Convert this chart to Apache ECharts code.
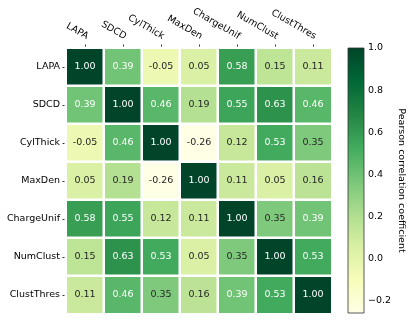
<!DOCTYPE html>
<html>
<head>
<meta charset="utf-8">
<script src="https://cdn.jsdelivr.net/npm/echarts@6/dist/echarts.min.js"></script>
<style>
  html, body { margin: 0; padding: 0; background: #fff; }
  #chart { width: 413px; height: 320px; }
</style>
</head>
<body>
<div id="chart"></div>
<script>
// 变量名
var labels = ['LAPA', 'SDCD', 'CylThick', 'MaxDen', 'ChargeUnif', 'NumClust', 'ClustThres'];
// 相关系数矩阵 (按行)
var rowLAPA = [1.00, 0.39, -0.05, 0.05, 0.58, 0.15, 0.11];
var rowSDCD = [0.39, 1.00, 0.46, 0.19, 0.55, 0.63, 0.46];
var rowCylThick = [-0.05, 0.46, 1.00, -0.26, 0.12, 0.53, 0.35];
var rowMaxDen = [0.05, 0.19, -0.26, 1.00, 0.11, 0.05, 0.16];
var rowChargeUnif = [0.58, 0.55, 0.12, 0.11, 1.00, 0.35, 0.39];
var rowNumClust = [0.15, 0.63, 0.53, 0.05, 0.35, 1.00, 0.53];
var rowClustThres = [0.11, 0.46, 0.35, 0.16, 0.39, 0.53, 1.00];
var rows = [rowLAPA, rowSDCD, rowCylThick, rowMaxDen, rowChargeUnif, rowNumClust, rowClustThres];
// 色条刻度
var cbTicks = [-0.2, 0.0, 0.2, 0.4, 0.6, 0.8, 1.0];
var cbMin = -0.26;
var cbMax = 1.0;

var ylgn = ['#ffffe5', '#f7fcb9', '#d9f0a3', '#addd8e', '#78c679', '#41ab5d', '#238443', '#006837', '#004529'];
var font = 'DejaVu Sans';
var textDark = '#262626';

var heatData = [];
for (var r = 0; r < rows.length; r++) {
    for (var c = 0; c < rows[r].length; c++) {
        var v = rows[r][c];
        heatData.push({
            value: [c, r, v],
            label: { color: v > 0.37 ? '#ffffff' : textDark }
        });
    }
}

var stops = [];
for (var i = 0; i < ylgn.length; i++) {
    stops.push({ offset: 1 - i / (ylgn.length - 1), color: ylgn[i] });
}

var myChart = echarts.init(document.getElementById('chart'), null, { renderer: 'canvas' });
var option = {
    animation: false,
    backgroundColor: '#fff',
    grid: [
        { left: 66, top: 48, width: 266, height: 266 },
        { left: 348, top: 48, width: 16, height: 265 }
    ],
    xAxis: [{
        type: 'category',
        data: labels,
        position: 'top',
        gridIndex: 0,
        axisLine: { show: false },
        axisTick: { show: true, alignWithLabel: true, length: 3.5, lineStyle: { color: '#000', width: 0.8 } },
        axisLabel: {
            rotate: 30, margin: 6.5, fontFamily: font, fontSize: 9.5, color: '#000', interval: 0,
            align: 'right', verticalAlign: 'bottom'
        },
        splitLine: { show: false }
    }, {
        type: 'value',
        gridIndex: 1,
        min: 0,
        max: 1,
        show: false
    }],
    yAxis: [{
        type: 'category',
        data: labels,
        inverse: true,
        gridIndex: 0,
        axisLine: { show: false },
        axisTick: { show: true, alignWithLabel: true, length: 3.5, lineStyle: { color: '#000', width: 0.8 } },
        axisLabel: { margin: 6, fontFamily: font, fontSize: 9.5, color: '#000', interval: 0 },
        splitLine: { show: false }
    }, {
        type: 'value',
        gridIndex: 1,
        min: cbMin,
        max: cbMax,
        position: 'right',
        name: 'Pearson correlation coefficient',
        nameLocation: 'middle',
        nameRotate: -90,
        nameGap: 32,
        nameTextStyle: { fontFamily: font, fontSize: 9.5, color: '#000' },
        axisLine: { show: false },
        axisTick: { show: true, length: 3.5, customValues: cbTicks, lineStyle: { color: '#000', width: 0.8 } },
        axisLabel: {
            margin: 4, fontFamily: font, fontSize: 9.5, color: '#000', customValues: cbTicks,
            formatter: function (val) { return val < 0 ? '\u2212' + Math.abs(val).toFixed(1) : val.toFixed(1); }
        },
        splitLine: { show: false }
    }],
    visualMap: {
        show: false,
        type: 'continuous',
        seriesIndex: 0,
        dimension: 2,
        min: cbMin,
        max: cbMax,
        inRange: { color: ylgn }
    },
    series: [{
        type: 'heatmap',
        xAxisIndex: 0,
        yAxisIndex: 0,
        data: heatData,
        itemStyle: { borderColor: '#fff', borderWidth: 2.5 },
        label: {
            show: true,
            fontFamily: font,
            fontSize: 9.5,
            formatter: function (p) { return p.value[2] < 0 ? '-' + Math.abs(p.value[2]).toFixed(2) : p.value[2].toFixed(2); }
        },
        emphasis: { disabled: true }
    }, {
        // 色条
        type: 'custom',
        xAxisIndex: 1,
        yAxisIndex: 1,
        data: [[0, cbMin, 1, cbMax]],
        renderItem: function (params, api) {
            var p0 = api.coord([api.value(0), api.value(3)]);
            var p1 = api.coord([api.value(2), api.value(1)]);
            return {
                type: 'rect',
                shape: { x: p0[0], y: p0[1], width: p1[0] - p0[0], height: p1[1] - p0[1] },
                style: {
                    fill: new echarts.graphic.LinearGradient(0, 0, 0, 1, stops),
                    stroke: '#333',
                    lineWidth: 0.8
                }
            };
        }
    }]
};
myChart.setOption(option);
</script>
</body>
</html>
